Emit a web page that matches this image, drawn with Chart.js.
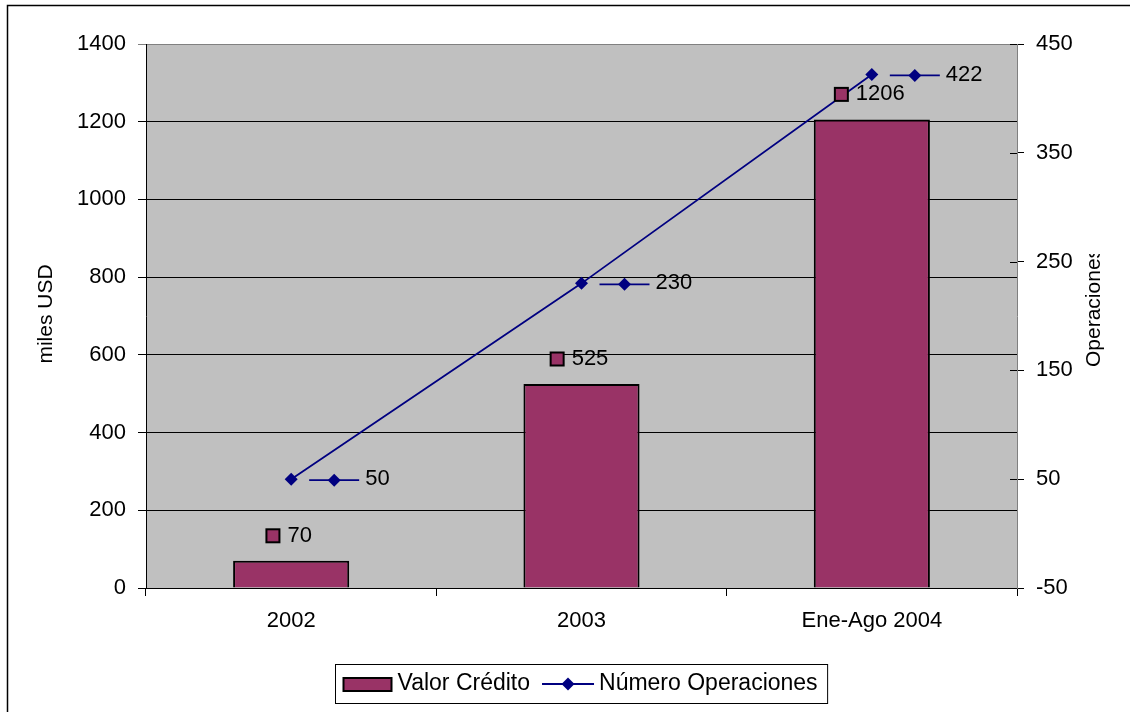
<!DOCTYPE html>
<html>
<head>
<meta charset="utf-8">
<title>Valor Crédito y Número Operaciones</title>
<script src="https://cdn.jsdelivr.net/npm/chart.js@4.4.1/dist/chart.umd.min.js"></script>
<style>
  html, body { margin: 0; padding: 0; background: #fff; }
  canvas { display: block; }
</style>
</head>
<body>
<canvas id="grafico" width="1130" height="712"></canvas>
<script>
// Datos
const categories = ['2002', '2003', 'Ene-Ago 2004'];
const valorCredito = [70, 525, 1206];          // miles USD
const numeroOperaciones = [50, 230, 422];      // operaciones
const leftTicks = [0, 200, 400, 600, 800, 1000, 1200, 1400];
const rightTicks = [-50, 50, 150, 250, 350, 450];

const FONT = '"Liberation Sans", Arial, sans-serif';
const BAR_COLOR = '#993366';
const LINE_COLOR = '#000080';

// diamante como en la leyenda
function diamond(ctx, x, y, r) {
    ctx.beginPath();
    ctx.moveTo(x, y - r);
    ctx.lineTo(x + r, y);
    ctx.lineTo(x, y + r);
    ctx.lineTo(x - r, y);
    ctx.closePath();
    ctx.fillStyle = LINE_COLOR;
    ctx.fill();
}

function lineKey(ctx, x, y, len) {
    ctx.strokeStyle = LINE_COLOR;
    ctx.lineWidth = 1.8;
    ctx.beginPath();
    ctx.moveTo(x, y);
    ctx.lineTo(x + len, y);
    ctx.stroke();
    diamond(ctx, x + len / 2, y, 6.5);
}

function barKey(ctx, x, y, w, h) {
    ctx.fillStyle = BAR_COLOR;
    ctx.fillRect(x, y, w, h);
    ctx.strokeStyle = '#000';
    ctx.lineWidth = 2;
    ctx.strokeRect(x, y, w, h);
}

const fondoYMarcos = {
    id: 'fondoYMarcos',
    beforeDraw(chart) {
        const { ctx, chartArea: a } = chart;
        ctx.save();
        ctx.fillStyle = '#fff';
        ctx.fillRect(0, 0, chart.width, chart.height);
        ctx.fillStyle = '#c0c0c0';
        ctx.fillRect(a.left, a.top, a.right - a.left, a.bottom - a.top);
        ctx.restore();
    },
    afterDatasetsDraw(chart) {
        const ctx = chart.ctx;
        ctx.save();
        ctx.font = '22px ' + FONT;
        ctx.textBaseline = 'middle';
        ctx.fillStyle = '#000';

        // etiquetas de las barras: clave + valor
        chart.getDatasetMeta(0).data.forEach((bar, i) => {
            const txt = String(valorCredito[i]);
            const tw = ctx.measureText(txt).width;
            const total = 13 + 8 + tw;
            const x0 = bar.x - 2 - total / 2;
            const yc = bar.y - 25;
            barKey(ctx, x0, yc - 6.5, 13, 13);
            ctx.fillStyle = '#000';
            ctx.textAlign = 'left';
            ctx.fillText(txt, x0 + 21, yc);
        });

        // etiquetas de la línea: clave + valor a la derecha del punto
        chart.getDatasetMeta(1).data.forEach((pt, i) => {
            const yc = pt.y + 1;
            const x0 = pt.x + 18;
            lineKey(ctx, x0, yc, 50);
            ctx.fillStyle = '#000';
            ctx.textAlign = 'left';
            ctx.fillText(String(numeroOperaciones[i]), x0 + 56, yc - 1);
        });
        ctx.restore();
    },
    afterDraw(chart) {
        const { ctx, chartArea: a } = chart;
        const y1 = chart.scales.y1;
        ctx.save();

        // marcas interiores del eje derecho
        ctx.strokeStyle = '#000';
        ctx.lineWidth = 1;
        y1.ticks.forEach(t => {
            const py = Math.round(y1.getPixelForValue(t.value)) + 0.5;
            ctx.beginPath();
            ctx.moveTo(a.right - 7, py);
            ctx.lineTo(a.right, py);
            ctx.stroke();
        });

        // títulos de los ejes
        ctx.fillStyle = '#000';
        ctx.font = '21px ' + FONT;
        ctx.textAlign = 'center';
        ctx.textBaseline = 'middle';
        ctx.save();
        ctx.translate(46, 314);
        ctx.rotate(-Math.PI / 2);
        ctx.fillText('miles USD', 0, 0);
        ctx.restore();

        // el título derecho queda recortado por arriba
        ctx.save();
        ctx.beginPath();
        ctx.rect(1060, 254, 70, 200);
        ctx.clip();
        ctx.translate(1094, 367);
        ctx.rotate(-Math.PI / 2);
        ctx.textAlign = 'left';
        ctx.fillText('Operaciones', 0, 0);
        ctx.restore();

        // leyenda
        ctx.font = '23px ' + FONT;
        ctx.textAlign = 'left';
        const t1 = 'Valor Crédito', t2 = 'Número Operaciones';
        const w1 = ctx.measureText(t1).width, w2 = ctx.measureText(t2).width;
        const boxW = 8 + 48 + 6 + w1 + 12 + 52 + 5 + w2 + 10;
        const bx = Math.round((a.left + a.right) / 2 - boxW / 2) + 0.5;
        const by = 664.5, bh = 39;
        ctx.fillStyle = '#fff';
        ctx.fillRect(bx, by, boxW, bh);
        ctx.strokeStyle = '#000';
        ctx.lineWidth = 1;
        ctx.strokeRect(bx, by, boxW, bh);
        const ly = by + bh / 2;
        let x = bx + 8;
        barKey(ctx, x, ly - 6, 48, 13);
        x += 48 + 6;
        ctx.fillStyle = '#000';
        ctx.fillText(t1, x, ly);
        x += w1 + 12;
        lineKey(ctx, x, ly, 52);
        x += 52 + 5;
        ctx.fillStyle = '#000';
        ctx.fillText(t2, x, ly);

        // marco exterior
        ctx.strokeStyle = '#000';
        ctx.lineWidth = 1.5;
        ctx.strokeRect(7.5, 5.5, 1200, 800);
        ctx.restore();
    }
};

const tickFont = { size: 22, family: FONT };

new Chart(document.getElementById('grafico'), {
    type: 'bar',
    data: {
        labels: categories,
        datasets: [
            {
                type: 'bar',
                label: 'Valor Crédito',
                data: valorCredito,
                yAxisID: 'y',
                backgroundColor: BAR_COLOR,
                borderColor: '#000',
                borderWidth: 2,
                barPercentage: 0.4,
                categoryPercentage: 1,
                order: 2
            },
            {
                type: 'line',
                label: 'Número Operaciones',
                data: numeroOperaciones,
                yAxisID: 'y1',
                borderColor: LINE_COLOR,
                borderWidth: 1.8,
                pointStyle: 'rectRot',
                pointRadius: 6.5,
                pointBackgroundColor: LINE_COLOR,
                pointBorderColor: LINE_COLOR,
                pointBorderWidth: 0,
                tension: 0,
                order: 1
            }
        ]
    },
    options: {
        responsive: false,
        devicePixelRatio: 1,
        animation: false,
        layout: { padding: { top: 44, left: 0, right: 0, bottom: 0 } },
        plugins: {
            legend: { display: false },
            tooltip: { enabled: false }
        },
        scales: {
            x: {
                offset: true,
                grid: { offset: true, drawOnChartArea: false, tickLength: 8, color: '#000' },
                border: { color: '#000', width: 1 },
                ticks: { color: '#000', font: tickFont, padding: 12, maxRotation: 0 },
                afterFit: s => { s.height = 124; }
            },
            y: {
                position: 'left',
                min: leftTicks[0],
                max: leftTicks[leftTicks.length - 1],
                afterBuildTicks: s => { s.ticks = leftTicks.map(v => ({ value: v })); },
                grid: {
                    color: c => (c.tick && c.tick.value === 1400 ? '#808080' : '#000'),
                    tickLength: 8
                },
                border: { color: '#000', width: 1 },
                ticks: { color: '#000', font: tickFont, padding: 12, callback: v => String(v) },
                afterFit: s => { s.width = 146; }
            },
            y1: {
                position: 'right',
                min: rightTicks[0],
                max: rightTicks[rightTicks.length - 1],
                afterBuildTicks: s => { s.ticks = rightTicks.map(v => ({ value: v })); },
                grid: { drawOnChartArea: false, tickLength: 7, color: '#000' },
                border: { color: '#808080', width: 1 },
                ticks: { color: '#000', font: tickFont, padding: 12, callback: v => String(v) },
                afterFit: s => { s.width = 113; }
            }
        }
    },
    plugins: [fondoYMarcos]
});
</script>
</body>
</html>
